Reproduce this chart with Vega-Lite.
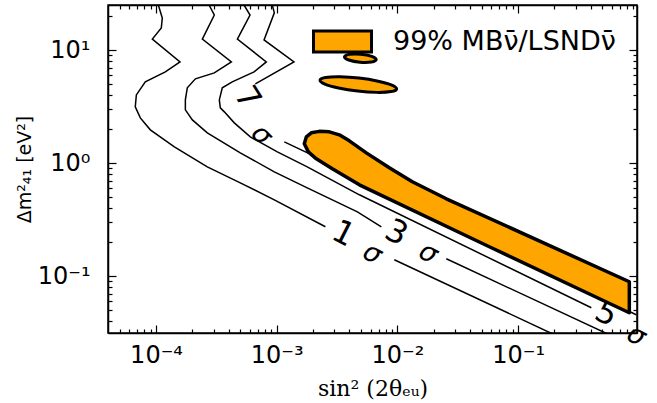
{
  "$schema": "https://vega.github.io/schema/vega-lite/v6.json",
  "width": 529,
  "height": 328,
  "autosize": {"type": "none"},
  "padding": {"left": 108, "top": 5, "right": 20, "bottom": 70},
  "background": "white",
  "config": {
    "view": {"stroke": "black", "strokeWidth": 1.5},
    "font": "DejaVu Sans",
    "axis": {
      "domainColor": "black", "domainWidth": 1.5, "tickColor": "black", "tickWidth": 1.2,
      "labelColor": "black", "labelFont": "DejaVu Sans", "labelFontSize": 24, "grid": false,
      "titleColor": "black", "titleFontWeight": "normal", "labelOverlap": false, "labelFlush": false, "labelBound": false
    }
  },
  "datasets": {
    "contours": [
      {"seg": "1a", "i": 1, "x": 1.045e-4, "y": 25.0},
      {"seg": "1a", "i": 2, "x": 1.127e-4, "y": 19.2},
      {"seg": "1a", "i": 3, "x": 1.106e-4, "y": 15.7},
      {"seg": "1a", "i": 4, "x": 9.32e-5, "y": 12.5},
      {"seg": "1a", "i": 5, "x": 1.58e-4, "y": 7.85},
      {"seg": "1a", "i": 6, "x": 1.194e-4, "y": 6.41},
      {"seg": "1a", "i": 7, "x": 8.15e-5, "y": 5.23},
      {"seg": "1a", "i": 8, "x": 6.87e-5, "y": 4.01},
      {"seg": "1a", "i": 9, "x": 6.73e-5, "y": 3.14},
      {"seg": "1a", "i": 10, "x": 7.41e-5, "y": 2.51},
      {"seg": "1a", "i": 11, "x": 8.97e-5, "y": 1.97},
      {"seg": "1a", "i": 12, "x": 1.419e-4, "y": 1.393},
      {"seg": "1a", "i": 13, "x": 2.66e-4, "y": 0.927},
      {"seg": "1a", "i": 14, "x": 4.99e-4, "y": 0.670},
      {"seg": "1a", "i": 15, "x": 9.55e-4, "y": 0.474},
      {"seg": "1a", "i": 16, "x": 2.53e-3, "y": 0.2737},
      {"seg": "1b", "i": 1, "x": 9.42e-3, "y": 0.140},
      {"seg": "1b", "i": 2, "x": 0.2446, "y": 0.02748},
      {"seg": "3a", "i": 1, "x": 2.75e-4, "y": 25.0},
      {"seg": "3a", "i": 2, "x": 3.04e-4, "y": 20.4},
      {"seg": "3a", "i": 3, "x": 2.42e-4, "y": 12.5},
      {"seg": "3a", "i": 4, "x": 4.21e-4, "y": 7.85},
      {"seg": "3a", "i": 5, "x": 3.04e-4, "y": 6.28},
      {"seg": "3a", "i": 6, "x": 2.12e-4, "y": 5.56},
      {"seg": "3a", "i": 7, "x": 1.816e-4, "y": 4.63},
      {"seg": "3a", "i": 8, "x": 1.75e-4, "y": 3.62},
      {"seg": "3a", "i": 9, "x": 1.75e-4, "y": 2.96},
      {"seg": "3a", "i": 10, "x": 2.0e-4, "y": 2.41},
      {"seg": "3a", "i": 11, "x": 2.66e-4, "y": 1.853},
      {"seg": "3a", "i": 12, "x": 4.99e-4, "y": 1.233},
      {"seg": "3a", "i": 13, "x": 9.55e-4, "y": 0.838},
      {"seg": "3a", "i": 14, "x": 1.79e-3, "y": 0.605},
      {"seg": "3a", "i": 15, "x": 4.66e-3, "y": 0.371},
      {"seg": "3a", "i": 16, "x": 7.36e-3, "y": 0.2737},
      {"seg": "3b", "i": 1, "x": 0.02542, "y": 0.1427},
      {"seg": "3b", "i": 2, "x": 0.6983, "y": 0.02748},
      {"seg": "5a", "i": 1, "x": 5.36e-4, "y": 25.0},
      {"seg": "5a", "i": 2, "x": 6.01e-4, "y": 20.4},
      {"seg": "5a", "i": 3, "x": 4.72e-4, "y": 12.5},
      {"seg": "5a", "i": 4, "x": 8.2e-4, "y": 7.85},
      {"seg": "5a", "i": 5, "x": 6.49e-4, "y": 6.41},
      {"seg": "5a", "i": 6, "x": 4.28e-4, "y": 5.23},
      {"seg": "5a", "i": 7, "x": 3.54e-4, "y": 4.63},
      {"seg": "5a", "i": 8, "x": 3.345e-4, "y": 3.62},
      {"seg": "5a", "i": 9, "x": 3.41e-4, "y": 3.08},
      {"seg": "5a", "i": 10, "x": 3.68e-4, "y": 2.84},
      {"seg": "5a", "i": 11, "x": 4.45e-4, "y": 2.27},
      {"seg": "5a", "i": 12, "x": 6.04e-4, "y": 1.707},
      {"seg": "5a", "i": 13, "x": 1.012e-3, "y": 1.258},
      {"seg": "5a", "i": 14, "x": 1.79e-3, "y": 0.927},
      {"seg": "5a", "i": 15, "x": 4.84e-3, "y": 0.525},
      {"seg": "5a", "i": 16, "x": 0.4042, "y": 0.0527},
      {"seg": "7a", "i": 1, "x": 9.19e-4, "y": 25.0},
      {"seg": "7a", "i": 2, "x": 9.55e-4, "y": 21.3},
      {"seg": "7a", "i": 3, "x": 7.85e-4, "y": 12.28},
      {"seg": "7a", "i": 4, "x": 1.39e-3, "y": 7.85},
      {"seg": "7a", "i": 5, "x": 6.65e-4, "y": 5.02},
      {"seg": "7b", "i": 1, "x": 1.156e-3, "y": 1.542},
      {"seg": "7b", "i": 2, "x": 2.386e-3, "y": 1.069},
      {"seg": "7b", "i": 3, "x": 0.6894, "y": 0.0538},
      {"seg": "7b", "i": 4, "x": 0.953, "y": 0.0457}
    ],
    "labels": [
      {"g": "d", "t": "1", "x": 3.56e-3, "y": 0.2374},
      {"g": "d", "t": "3", "x": 9.79e-3, "y": 0.2422},
      {"g": "d", "t": "5", "x": 0.538, "y": 0.0466},
      {"g": "s", "t": "σ", "x": 6.19e-3, "y": 0.158},
      {"g": "s", "t": "σ", "x": 0.01803, "y": 0.1596},
      {"g": "s", "t": "σ", "x": 0.953, "y": 0.0298},
      {"g": "d7", "t": "7", "x": 5.71e-4, "y": 3.77},
      {"g": "s7", "t": "σ", "x": 7.46e-4, "y": 1.778}
    ],
    "band": [
      {"i": 1, "x": 1.693e-3, "y": 1.481},
      {"i": 2, "x": 1.759e-3, "y": 1.707},
      {"i": 3, "x": 1.934e-3, "y": 1.853},
      {"i": 4, "x": 2.254e-3, "y": 1.909},
      {"i": 5, "x": 2.728e-3, "y": 1.890},
      {"i": 6, "x": 3.301e-3, "y": 1.778},
      {"i": 7, "x": 3.995e-3, "y": 1.574},
      {"i": 8, "x": 5.525e-3, "y": 1.233},
      {"i": 9, "x": 8.57e-3, "y": 0.909},
      {"i": 10, "x": 0.01329, "y": 0.684},
      {"i": 11, "x": 0.02542, "y": 0.4838},
      {"i": 12, "x": 0.8343, "y": 0.0894},
      {"i": 13, "x": 0.8343, "y": 0.04759},
      {"i": 14, "x": 0.4726, "y": 0.0633},
      {"i": 15, "x": 0.05772, "y": 0.1823},
      {"i": 16, "x": 4.84e-3, "y": 0.6433},
      {"i": 17, "x": 2.888e-3, "y": 0.891},
      {"i": 18, "x": 2.129e-3, "y": 1.091},
      {"i": 19, "x": 1.827e-3, "y": 1.258}
    ],
    "ellipses": [
      {"e": "A", "i": 1, "x": 9.85e-3, "y": 4.524},
      {"e": "A", "i": 2, "x": 8.87e-3, "y": 4.291},
      {"e": "A", "i": 3, "x": 6.75e-3, "y": 4.222},
      {"e": "A", "i": 4, "x": 4.68e-3, "y": 4.335},
      {"e": "A", "i": 5, "x": 3.25e-3, "y": 4.617},
      {"e": "A", "i": 6, "x": 2.503e-3, "y": 4.998},
      {"e": "A", "i": 7, "x": 2.286e-3, "y": 5.41},
      {"e": "A", "i": 8, "x": 2.537e-3, "y": 5.705},
      {"e": "A", "i": 9, "x": 3.33e-3, "y": 5.799},
      {"e": "A", "i": 10, "x": 4.81e-3, "y": 5.646},
      {"e": "A", "i": 11, "x": 6.92e-3, "y": 5.30},
      {"e": "A", "i": 12, "x": 8.99e-3, "y": 4.898},
      {"e": "B", "i": 1, "x": 6.67e-3, "y": 8.227},
      {"e": "B", "i": 2, "x": 6.08e-3, "y": 7.834},
      {"e": "B", "i": 3, "x": 4.9e-3, "y": 7.802},
      {"e": "B", "i": 4, "x": 3.957e-3, "y": 8.16},
      {"e": "B", "i": 5, "x": 3.64e-3, "y": 8.71},
      {"e": "B", "i": 6, "x": 3.995e-3, "y": 9.15},
      {"e": "B", "i": 7, "x": 4.96e-3, "y": 9.18},
      {"e": "B", "i": 8, "x": 6.14e-3, "y": 8.78}
    ],
    "legendrow": [
      {"k": "99% MBν̄/LSNDν̄", "x": 0.01, "y": 0.6}
    ]
  },
  "layer": [
    {
      "data": {"name": "contours"},
      "mark": {"type": "line", "color": "black", "strokeWidth": 1.5, "clip": true},
      "encoding": {
        "x": {
          "field": "x", "type": "quantitative",
          "scale": {"type": "log", "domain": [4e-5, 0.966], "nice": false},
          "axis": {
            "orient": "bottom",
            "values": [5e-5, 6e-5, 7e-5, 8e-5, 9e-5, 1e-4, 2e-4, 3e-4, 4e-4, 5e-4, 6e-4, 7e-4, 8e-4, 9e-4, 0.001, 0.002, 0.003, 0.004, 0.005, 0.006, 0.007, 0.008, 0.009, 0.01, 0.02, 0.03, 0.04, 0.05, 0.06, 0.07, 0.08, 0.09, 0.1, 0.2, 0.3, 0.4, 0.5, 0.6, 0.7, 0.8, 0.9],
            "tickSize": {"condition": {"test": "datum.value == 0.0001 || datum.value == 0.001 || datum.value == 0.01 || datum.value == 0.1", "value": -8}, "value": -4},
            "labelExpr": "datum.value == 0.0001 ? '10⁻⁴' : datum.value == 0.001 ? '10⁻³' : datum.value == 0.01 ? '10⁻²' : datum.value == 0.1 ? '10⁻¹' : ''",
            "labelPadding": 18,
            "title": "sin² (2θₑᵤ)",
            "titleFont": "DejaVu Serif",
            "titleFontSize": 22,
            "titlePadding": 7
          }
        },
        "y": {
          "field": "y", "type": "quantitative",
          "scale": {"type": "log", "domain": [0.0315, 25], "nice": false},
          "axis": {
            "orient": "left",
            "values": [0.04, 0.05, 0.06, 0.07, 0.08, 0.09, 0.1, 0.2, 0.3, 0.4, 0.5, 0.6, 0.7, 0.8, 0.9, 1, 2, 3, 4, 5, 6, 7, 8, 9, 10, 20],
            "tickSize": {"condition": {"test": "datum.value == 0.1 || datum.value == 1 || datum.value == 10", "value": -8}, "value": -4},
            "labelExpr": "datum.value == 0.1 ? '10⁻¹' : datum.value == 1 ? '10⁰' : datum.value == 10 ? '10¹' : ''",
            "labelPadding": 26,
            "title": "Δm²₄₁ [eV²]",
            "titleFont": "DejaVu Sans",
            "titleFontSize": 19,
            "titlePadding": 3
          }
        },
        "detail": {"field": "seg"},
        "order": {"field": "i"}
      }
    },
    {
      "data": {"name": "labels"},
      "transform": [{"filter": "datum.g == 'd'"}],
      "mark": {"type": "text", "font": "DejaVu Sans", "fontSize": 32, "angle": 27, "align": "center", "baseline": "middle", "color": "black"},
      "encoding": {
        "x": {"field": "x", "type": "quantitative", "scale": {"type": "log", "domain": [4e-5, 0.966], "nice": false}, "axis": null},
        "y": {"field": "y", "type": "quantitative", "scale": {"type": "log", "domain": [0.0315, 25], "nice": false}, "axis": null},
        "text": {"field": "t"}
      }
    },
    {
      "data": {"name": "labels"},
      "transform": [{"filter": "datum.g == 's'"}],
      "mark": {"type": "text", "font": "DejaVu Sans", "fontSize": 27, "fontStyle": "italic", "angle": 27, "align": "center", "baseline": "middle", "color": "black"},
      "encoding": {
        "x": {"field": "x", "type": "quantitative", "scale": {"type": "log", "domain": [4e-5, 0.966], "nice": false}, "axis": null},
        "y": {"field": "y", "type": "quantitative", "scale": {"type": "log", "domain": [0.0315, 25], "nice": false}, "axis": null},
        "text": {"field": "t"}
      }
    },
    {
      "data": {"name": "labels"},
      "transform": [{"filter": "datum.g == 'd7'"}],
      "mark": {"type": "text", "font": "DejaVu Sans", "fontSize": 32, "angle": 58, "align": "center", "baseline": "middle", "color": "black"},
      "encoding": {
        "x": {"field": "x", "type": "quantitative", "scale": {"type": "log", "domain": [4e-5, 0.966], "nice": false}, "axis": null},
        "y": {"field": "y", "type": "quantitative", "scale": {"type": "log", "domain": [0.0315, 25], "nice": false}, "axis": null},
        "text": {"field": "t"}
      }
    },
    {
      "data": {"name": "labels"},
      "transform": [{"filter": "datum.g == 's7'"}],
      "mark": {"type": "text", "font": "DejaVu Sans", "fontSize": 27, "fontStyle": "italic", "angle": 45, "align": "center", "baseline": "middle", "color": "black"},
      "encoding": {
        "x": {"field": "x", "type": "quantitative", "scale": {"type": "log", "domain": [4e-5, 0.966], "nice": false}, "axis": null},
        "y": {"field": "y", "type": "quantitative", "scale": {"type": "log", "domain": [0.0315, 25], "nice": false}, "axis": null},
        "text": {"field": "t"}
      }
    },
    {
      "data": {"name": "legendrow"},
      "mark": {"type": "point", "filled": false, "fill": "#FFA500", "size": 0, "strokeWidth": 3},
      "encoding": {
        "x": {"field": "x", "type": "quantitative", "scale": {"type": "log", "domain": [4e-5, 0.966], "nice": false}, "axis": null},
        "y": {"field": "y", "type": "quantitative", "scale": {"type": "log", "domain": [0.0315, 25], "nice": false}, "axis": null},
        "stroke": {
          "field": "k", "type": "nominal",
          "scale": {"range": ["#000000"]},
          "legend": {
            "title": null, "orient": "none", "legendX": 204, "legendY": 6,
            "symbolType": "M-1,-0.36L1,-0.36L1,0.36L-1,0.36Z", "symbolSize": 3364,
            "symbolStrokeWidth": 3, "symbolOpacity": 1,
            "labelFont": "DejaVu Sans", "labelFontSize": 27, "labelColor": "black",
            "labelOffset": 20, "labelLimit": 500, "padding": 0
          }
        }
      }
    },
    {
      "data": {"name": "band"},
      "mark": {"type": "line", "interpolate": "linear-closed", "fill": "#FFA500", "stroke": "black", "strokeWidth": 3.5, "strokeJoin": "round", "clip": true},
      "encoding": {
        "x": {
          "field": "x", "type": "quantitative",
          "scale": {"type": "log", "domain": [4e-5, 0.966], "nice": false},
          "axis": {
            "orient": "top", "labels": false, "title": null,
            "values": [5e-5, 6e-5, 7e-5, 8e-5, 9e-5, 1e-4, 2e-4, 3e-4, 4e-4, 5e-4, 6e-4, 7e-4, 8e-4, 9e-4, 0.001, 0.002, 0.003, 0.004, 0.005, 0.006, 0.007, 0.008, 0.009, 0.01, 0.02, 0.03, 0.04, 0.05, 0.06, 0.07, 0.08, 0.09, 0.1, 0.2, 0.3, 0.4, 0.5, 0.6, 0.7, 0.8, 0.9],
            "tickSize": {"condition": {"test": "datum.value == 0.0001 || datum.value == 0.001 || datum.value == 0.01 || datum.value == 0.1", "value": -8}, "value": -4}
          }
        },
        "y": {
          "field": "y", "type": "quantitative",
          "scale": {"type": "log", "domain": [0.0315, 25], "nice": false},
          "axis": {
            "orient": "right", "labels": false, "title": null,
            "values": [0.04, 0.05, 0.06, 0.07, 0.08, 0.09, 0.1, 0.2, 0.3, 0.4, 0.5, 0.6, 0.7, 0.8, 0.9, 1, 2, 3, 4, 5, 6, 7, 8, 9, 10, 20],
            "tickSize": {"condition": {"test": "datum.value == 0.1 || datum.value == 1 || datum.value == 10", "value": -8}, "value": -4}
          }
        },
        "order": {"field": "i"}
      }
    },
    {
      "data": {"name": "ellipses"},
      "mark": {"type": "line", "interpolate": "cardinal-closed", "fill": "#FFA500", "stroke": "black", "strokeWidth": 3, "clip": true},
      "encoding": {
        "x": {"field": "x", "type": "quantitative", "scale": {"type": "log", "domain": [4e-5, 0.966], "nice": false}, "axis": null},
        "y": {"field": "y", "type": "quantitative", "scale": {"type": "log", "domain": [0.0315, 25], "nice": false}, "axis": null},
        "detail": {"field": "e"},
        "order": {"field": "i"}
      }
    }
  ],
  "resolve": {"axis": {"x": "independent", "y": "independent"}}
}
